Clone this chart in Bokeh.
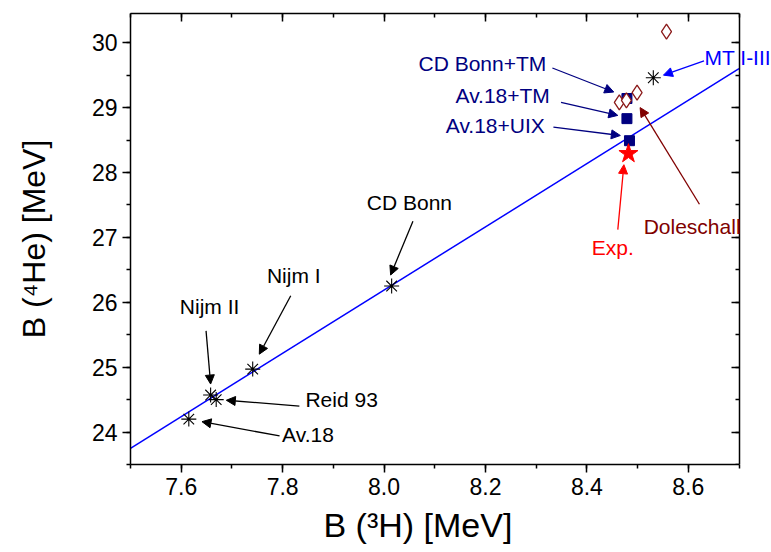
from bokeh.plotting import figure
from bokeh.models import (LinearAxis, Range1d, SingleIntervalTicker, NumeralTickFormatter,
                          Label, Arrow, NormalHead, CustomLabelingPolicy)
from bokeh.embed import file_html
from bokeh.resources import INLINE

# ---- data ----
nn_names = ["Av.18", "Nijm II", "Reid 93", "Nijm I", "CD Bonn", "MT I-III"]
nn_b3h = [7.615, 7.658, 7.669, 7.741, 8.015, 8.531]
nn_b4he = [24.20, 24.57, 24.50, 24.97, 26.25, 29.46]

nnn_names = ["Av.18+UIX", "Av.18+TM", "CD Bonn+TM"]
nnn_b3h = [8.484, 8.479, 8.479]
nnn_b4he = [28.49, 28.83, 29.14]

dol_b3h = [8.464, 8.478, 8.499, 8.557]
dol_b4he = [29.08, 29.11, 29.23, 30.17]

exp_b3h = [8.482]
exp_b4he = [28.29]

line_b3h = [7.5, 8.7]
line_b4he = [23.75, 29.60]

x_min, x_max = 7.5, 8.7
y_min, y_max = 23.5, 30.45
x_ticks_interval = 0.2
y_ticks_interval = 1

FONT = "Liberation Sans"
NBSP = "\u00a0"

# frame is widened to the right so that the "MT I-III" label is not clipped;
# the right-hand axis is pinned at x_max with fixed_location
FRAME_W = 641
PX_PER_UNIT = 608.5 / (x_max - x_min)

p = figure(width=771, height=552, output_backend="svg", toolbar_location=None,
           x_range=Range1d(x_min, x_min + FRAME_W / PX_PER_UNIT), y_range=Range1d(y_min, y_max),
           min_border_left=130, min_border_right=0, min_border_top=13, min_border_bottom=88,
           x_axis_location=None, y_axis_location=None)
p.frame_width = FRAME_W
p.frame_height = 451
p.xgrid.visible = False
p.ygrid.visible = False
p.outline_line_color = None
p.background_fill_color = "white"
p.border_fill_color = "white"


def make_axis(ticker_interval, show_labels, inward, title=None, fmt=None, title_size="31px",
              title_standoff=8, **kw):
    ax = LinearAxis(ticker=SingleIntervalTicker(interval=ticker_interval, num_minor_ticks=2), **kw)
    ax.axis_line_width = 1.5
    ax.axis_line_color = "black"
    ax.major_tick_line_width = 1.5
    ax.minor_tick_line_width = 1.5
    if inward:
        ax.major_tick_in, ax.major_tick_out = 8, 0
        ax.minor_tick_in, ax.minor_tick_out = 4, 0
    else:
        ax.major_tick_in, ax.major_tick_out = 0, 8
        ax.minor_tick_in, ax.minor_tick_out = 0, 4
    if show_labels:
        ax.major_label_text_font = FONT
        ax.major_label_text_font_size = "23px"
        ax.major_label_text_color = "black"
        ax.major_label_standoff = 5
        if fmt:
            ax.formatter = NumeralTickFormatter(format=fmt)
    else:
        ax.major_label_policy = CustomLabelingPolicy(code="return new Set()")
        ax.major_label_standoff = 0
    if title:
        ax.axis_label = title
        ax.axis_label_text_font = FONT
        ax.axis_label_text_font_size = title_size
        ax.axis_label_text_font_style = "normal"
        ax.axis_label_text_color = "black"
        ax.axis_label_standoff = title_standoff
    return ax


# trailing no-break spaces keep the title centred under the 7.5-8.7 axis, as in the original
p.add_layout(make_axis(x_ticks_interval, True, False, "B (³H) [MeV]" + NBSP * 7, "0.0", "34px", 8,
                       bounds=(x_min, x_max)), "below")
p.add_layout(make_axis(y_ticks_interval, True, False, "B (⁴He) [MeV]", "0", "32px", 37), "left")
p.add_layout(make_axis(x_ticks_interval, False, True, bounds=(x_min, x_max)), "above")
p.add_layout(make_axis(y_ticks_interval, False, True, fixed_location=x_max), "right")

# fit line
p.line(line_b3h, line_b4he, line_color="#0000ff", line_width=1.5)

# NN points
p.scatter(nn_b3h, nn_b4he, marker="asterisk", size=15, line_color="black", line_width=1.1)
# NNN squares
p.scatter(nnn_b3h, nnn_b4he, marker="square", size=10, fill_color="#000080", line_color="#000080")
# Doleschall diamonds
p.scatter(dol_b3h, dol_b4he, marker="diamond", size=15, fill_color="white",
          line_color="#8b1a1a", line_width=1.3)
# experiment
p.scatter(exp_b3h, exp_b4he, marker="star", size=20, fill_color="#ff0000", line_color="#ff0000")

# annotations: (text, tx, ty, align, color, arrow start, arrow end)
annots = [
    ("CD Bonn", 8.050, 27.54, "center", "black", (8.057, 27.25), (8.013, 26.42)),
    ("Nijm I", 7.822, 26.41, "center", "black", (7.816, 26.10), (7.754, 25.20)),
    ("Nijm II", 7.656, 25.94, "center", "black", (7.649, 25.56), (7.658, 24.74)),
    ("Reid 93", 7.845, 24.50, "left", "black", (7.833, 24.40), (7.689, 24.49)),
    ("Av.18", 7.799, 23.965, "left", "black", (7.794, 23.94), (7.641, 24.16)),
    ("MT I-III", 8.632, 29.77, "left", "#0000ff", (8.631, 29.72), (8.551, 29.50)),
    ("CD Bonn+TM", 8.320, 29.68, "right", "#000080", (8.332, 29.61), (8.453, 29.24)),
    ("Av.18+TM", 8.327, 29.18, "right", "#000080", (8.349, 29.08), (8.461, 28.88)),
    ("Av.18+UIX", 8.317, 28.73, "right", "#000080", (8.334, 28.70), (8.466, 28.57)),
    ("Exp.", 8.451, 26.84, "center", "#ff0000", (8.461, 27.12), (8.473, 28.12)),
    ("Doleschall", 8.512, 27.17, "left", "#800000", (8.622, 27.51), (8.505, 29.00)),
]
for text, tx, ty, align, color, s, e in annots:
    p.add_layout(Label(x=tx, y=ty, text=text, text_align=align, text_baseline="middle",
                       text_font=FONT, text_font_size="21px", text_color=color))
    p.add_layout(Arrow(x_start=s[0], y_start=s[1], x_end=e[0], y_end=e[1],
                       line_color=color, line_width=1.3,
                       end=NormalHead(size=9, fill_color=color, line_color=color)))

open("out.html", "w").write(file_html(p, INLINE))
